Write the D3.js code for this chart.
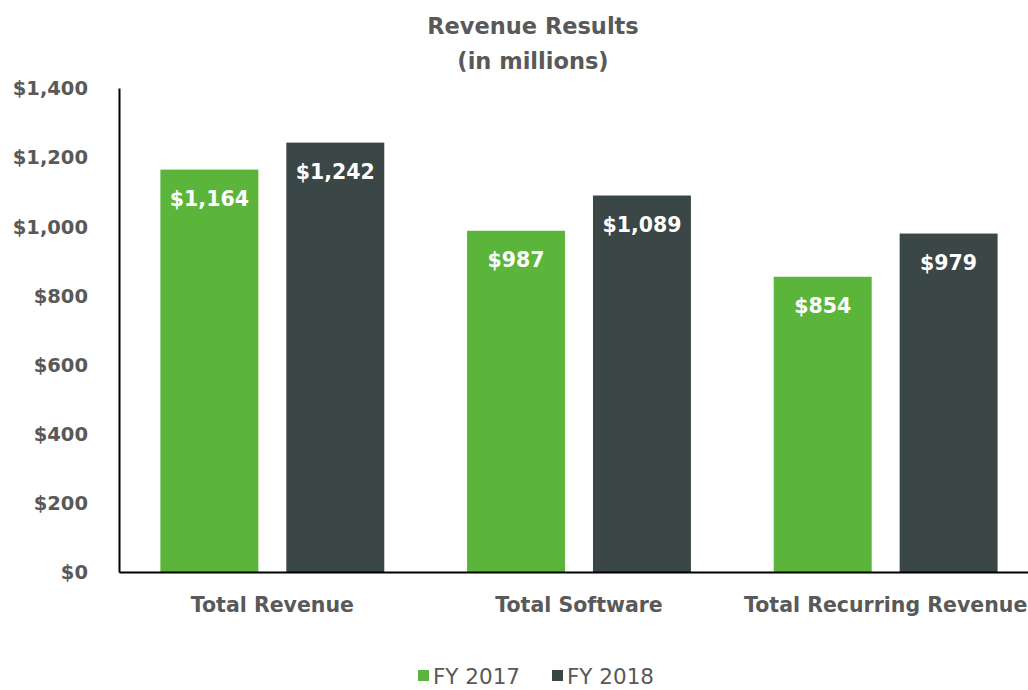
<!DOCTYPE html>
<html>
<head>
<meta charset="utf-8">
<script src="https://cdn.jsdelivr.net/npm/d3@7"></script>
<style>
  body { margin: 0; background: #fff; }
  text { font-family: "DejaVu Sans", sans-serif; }
</style>
</head>
<body>
<div id="chart"></div>
<script>
// data
var categories = ["Total Revenue", "Total Software", "Total Recurring Revenue"];
var seriesNames = ["FY 2017", "FY 2018"];
var fy2017 = [1164, 987, 854];
var fy2018 = [1242, 1089, 979];
var yTicks = [0, 200, 400, 600, 800, 1000, 1200, 1400];

var colors = ["#5cb53b", "#3b4646"];
var width = 1028, height = 690;
var margin = {top: 88, right: -11, bottom: 118, left: 119};

var svg = d3.select("#chart").append("svg")
  .attr("width", width)
  .attr("height", height);

var rows = categories.map(function(c, i) {
  return {cat: c, values: [fy2017[i], fy2018[i]]};
});

var x0 = d3.scaleBand()
  .domain(categories)
  .range([margin.left, width - margin.right])
  .paddingInner(0.27)
  .paddingOuter(0.135);

var x1 = d3.scaleBand()
  .domain(d3.range(seriesNames.length))
  .range([0, x0.bandwidth()])
  .paddingInner(0.222);

var y = d3.scaleLinear()
  .domain([0, 1400])
  .range([height - margin.bottom, margin.top]);

// title
svg.append("text")
  .attr("x", 533).attr("y", 34)
  .attr("text-anchor", "middle")
  .style("font-size", "22.5px").style("font-weight", "bold").style("fill", "#595959")
  .text("Revenue Results");
svg.append("text")
  .attr("x", 533).attr("y", 69)
  .attr("text-anchor", "middle")
  .style("font-size", "22.5px").style("font-weight", "bold").style("fill", "#595959")
  .text("(in millions)");

// bars
var groups = svg.selectAll(".grp")
  .data(rows)
  .enter().append("g")
  .attr("class", "grp")
  .attr("transform", d => "translate(" + x0(d.cat) + ",0)");

groups.selectAll("rect")
  .data(d => d.values)
  .enter().append("rect")
  .attr("x", (d, i) => x1(i))
  .attr("y", d => y(d))
  .attr("width", x1.bandwidth())
  .attr("height", d => y(0) - y(d))
  .style("fill", (d, i) => colors[i]);

groups.selectAll(".val")
  .data(d => d.values)
  .enter().append("text")
  .attr("class", "val")
  .attr("x", (d, i) => x1(i) + x1.bandwidth() / 2)
  .attr("y", d => y(d) + 36)
  .attr("text-anchor", "middle")
  .style("font-size", "20.5px").style("font-weight", "bold").style("fill", "#fff")
  .text(d => "$" + d3.format(",")(d));

// y axis
var yAxis = d3.axisLeft(y)
  .tickValues(yTicks)
  .tickSize(0)
  .tickPadding(31)
  .tickFormat(d => "$" + d3.format(",")(d));

var gy = svg.append("g")
  .attr("transform", "translate(" + margin.left + ",0)")
  .call(yAxis);
gy.select(".domain").attr("stroke", "#000").attr("stroke-width", 2);
gy.selectAll("text")
  .style("font-size", "19.5px").style("font-weight", "bold").style("fill", "#595959")
  .attr("dy", "0.35em");

// x axis
var xAxis = d3.axisBottom(x0).tickSize(0).tickPadding(25);
var gx = svg.append("g")
  .attr("transform", "translate(0," + y(0) + ")")
  .call(xAxis);
gx.select(".domain").attr("stroke", "#000").attr("stroke-width", 2);
gx.selectAll("text")
  .style("font-size", "20.5px").style("font-weight", "bold").style("fill", "#595959");

// legend
var legend = svg.append("g").attr("transform", "translate(418,684)");
var legItems = legend.selectAll("g")
  .data(seriesNames)
  .enter().append("g")
  .attr("transform", (d, i) => "translate(" + (i * 134) + ",0)");
legItems.append("rect")
  .attr("x", 0).attr("y", -14)
  .attr("width", 11).attr("height", 11)
  .style("fill", (d, i) => colors[i]);
legItems.append("text")
  .attr("x", 15).attr("y", 0)
  .style("font-size", "21.5px").style("fill", "#595959")
  .text(d => d);
</script>
</body>
</html>
